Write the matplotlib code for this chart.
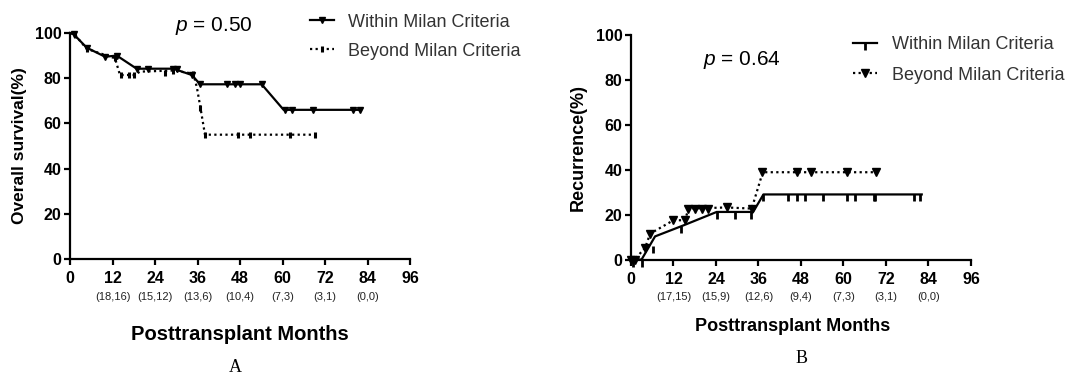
import matplotlib
matplotlib.use("Agg")
import matplotlib.pyplot as plt
from matplotlib.lines import Line2D

plt.rcParams["font.family"] = ["Liberation Sans", "DejaVu Sans"]
plt.rcParams["mathtext.fontset"] = "custom"
plt.rcParams["mathtext.it"] = "Liberation Sans:italic"
plt.rcParams["mathtext.rm"] = "Liberation Sans"

# ---- panel A: overall survival (%) ----
os_within_t = [0, 1, 4.7, 9.9, 13.2, 18.8, 29.2, 34.4, 36.7, 54.1, 60.3, 82]
os_within_y = [100, 99.5, 93.5, 89.5, 90, 84.2, 84.2, 81.4, 77.3, 77.3, 66, 66]
os_within_cens_t = [1, 4.7, 9.9, 13.2, 18.8, 22.1, 29.2, 30.2, 34.4, 36.7,
                    44.3, 46.6, 48, 54.1, 60.6, 62.6, 68.7, 80, 81.9]
os_within_cens_y = [99.5, 93.5, 89.5, 90, 84.2, 84.2, 84.2, 84.2, 81.4, 77.3,
                    77.3, 77.3, 77.3, 77.3, 66, 66, 66, 66, 66]

os_beyond_t = [0, 1.5, 4.7, 12.7, 14.1, 18, 19.8, 29.2, 34.8, 35.8, 36.7, 38.1, 69.2]
os_beyond_y = [100, 99, 93, 88.8, 81.4, 81.4, 82.9, 83.4, 82, 76, 68, 55, 55]
os_beyond_cens_t = [1.5, 4.7, 12.7, 14.3, 16.6, 18, 26.8, 29.2, 34.8, 36.7,
                    38.1, 47.5, 50.8, 62.1, 69.2]
os_beyond_cens_y = [99, 93, 88.8, 81.4, 81.4, 81.4, 82.5, 83.4, 82, 67,
                    55, 55, 55, 55, 55]
os_counts = ["(18,16)", "(15,12)", "(13,6)", "(10,4)", "(7,3)", "(3,1)", "(0,0)"]

# ---- panel B: recurrence (%) ----
rec_within_t = [0, 3, 6.8, 14.8, 24.2, 34.5, 37.4, 82.1]
rec_within_y = [0, 0, 10.3, 15.2, 21.2, 21.2, 29, 29]
rec_within_cens_t = [0.7, 3, 6.2, 14.2, 24.2, 29.4, 34, 37.4, 44.3, 47, 49,
                     54.1, 61.1, 63.3, 68.5, 69, 80, 81.6]
rec_within_cens_y = [0, 0, 6, 15, 21.2, 21.2, 21.2, 29, 29, 29, 29,
                     29, 29, 29, 29, 29, 29, 29]

rec_beyond_t = [0, 1, 4, 5.4, 12, 15.3, 16.2, 27, 34.1, 37.2, 69.1]
rec_beyond_y = [0, 0, 5.2, 11.5, 17.5, 17.5, 22.7, 23.2, 22.7, 38.9, 38.9]
rec_beyond_cens_t = [0, 1, 4, 5.4, 12, 15.3, 16.2, 18.1, 20, 21.8, 27, 34.1,
                     36.9, 47, 50.8, 61.1, 69.1]
rec_beyond_cens_y = [0, 0, 5.2, 11.5, 17.5, 17.5, 22.7, 22.7, 22.7, 22.7,
                     23.2, 22.7, 38.9, 38.9, 38.9, 38.9, 38.9]
rec_counts = ["(17,15)", "(15,9)", "(12,6)", "(9,4)", "(7,3)", "(3,1)", "(0,0)"]

count_months = [12, 24, 36, 48, 60, 72, 84]
x_ticks = list(range(0, 97, 12))
y_ticks = [0, 20, 40, 60, 80, 100]
labels = ["Within Milan Criteria", "Beyond Milan Criteria"]


def style_axes(ax):
    ax.set_xlim(0, 96)
    ax.set_ylim(0, 100)
    for side in ["top", "right"]:
        ax.spines[side].set_visible(False)
    for side in ["left", "bottom"]:
        ax.spines[side].set_linewidth(1.6)
    ax.set_xticks(x_ticks)
    ax.set_yticks(y_ticks)
    ax.tick_params(width=1.6, length=4, labelsize=11.5)
    ax.tick_params(axis="x", pad=5)
    ax.tick_params(axis="y", pad=2)
    for lab in ax.get_xticklabels() + ax.get_yticklabels():
        lab.set_fontweight("bold")


fig = plt.figure(figsize=(10.76, 3.74), dpi=100)
ax_a = fig.add_axes([0.0651, 0.3075, 0.316, 0.6043])
ax_b = fig.add_axes([0.5864, 0.3061, 0.316, 0.600])

# panel A curves
ax_a.plot(os_within_t, os_within_y, color="black", lw=1.6, clip_on=False)
ax_a.plot(os_within_cens_t, os_within_cens_y, ls="none", marker="v",
          ms=5, color="black", clip_on=False)
ax_a.plot(os_beyond_t, os_beyond_y, color="black", lw=1.6, ls=(0, (1, 1.5)),
          clip_on=False)
ax_a.plot(os_beyond_cens_t, os_beyond_cens_y, ls="none", marker="|",
          ms=5, mew=2.2, color="black", clip_on=False)
style_axes(ax_a)

handles_a = [
    Line2D([], [], color="black", lw=1.6, marker="v", ms=5),
    Line2D([], [], color="black", lw=1.6, ls=(0, (1, 1.5)), marker="|",
           ms=5, mew=2.2),
]
leg = ax_a.legend(handles_a, labels, loc="upper left",
                  bbox_to_anchor=(0.706, 1.085), frameon=False, fontsize=13,
                  handlelength=1.3, handletextpad=0.8, labelspacing=0.65,
                  borderpad=0, borderaxespad=0)
for t in leg.get_texts():
    t.set_color("#333333")

ax_a.text(0.424, 1.03, r"$p$ = 0.50", transform=ax_a.transAxes,
          ha="center", va="center", fontsize=15)
ax_a.set_ylabel("Overall survival(%)", fontsize=12.5, fontweight="bold")
ax_a.yaxis.set_label_coords(-0.128, 0.5)
ax_a.text(0.5, -0.335, "Posttransplant Months", transform=ax_a.transAxes,
          ha="center", va="center", fontsize=14.5, fontweight="heavy")
ax_a.text(0.485, -0.48, "A", transform=ax_a.transAxes, ha="center",
          va="center", fontsize=13, family="Liberation Serif")
for m, c in zip(count_months, os_counts):
    ax_a.text(m, -0.167, c, transform=ax_a.get_xaxis_transform(),
              ha="center", va="center", fontsize=8, color="#222222")

# panel B curves
ax_b.plot(rec_within_t, rec_within_y, color="black", lw=1.6, clip_on=False)
ax_b.plot(rec_within_cens_t, rec_within_cens_y, ls="none", marker=3,
          ms=5, mew=2, color="black", clip_on=False)
ax_b.plot(rec_beyond_t, rec_beyond_y, color="black", lw=1.6, ls=(0, (1, 1.5)),
          clip_on=False)
ax_b.plot(rec_beyond_cens_t, rec_beyond_cens_y, ls="none", marker="v",
          ms=6, color="black", clip_on=False)
style_axes(ax_b)

handles_b = [
    Line2D([], [], color="black", lw=1.6, marker=3, ms=5, mew=2),
    Line2D([], [], color="black", lw=1.6, ls=(0, (1, 1.5)), marker="v", ms=6),
]
leg = ax_b.legend(handles_b, labels, loc="upper left",
                  bbox_to_anchor=(0.653, 0.995), frameon=False, fontsize=13,
                  handlelength=1.35, handletextpad=0.8, labelspacing=0.75,
                  borderpad=0, borderaxespad=0)
for t in leg.get_texts():
    t.set_color("#333333")

ax_b.text(0.325, 0.89, r"$p$ = 0.64", transform=ax_b.transAxes,
          ha="center", va="center", fontsize=15)
ax_b.set_ylabel("Recurrence(%)", fontsize=13, fontweight="bold")
ax_b.yaxis.set_label_coords(-0.13, 0.5)
ax_b.text(0.476, -0.3, "Posttransplant Months", transform=ax_b.transAxes,
          ha="center", va="center", fontsize=13, fontweight="bold")
ax_b.text(0.502, -0.44, "B", transform=ax_b.transAxes, ha="center",
          va="center", fontsize=13, family="Liberation Serif")
for m, c in zip(count_months, rec_counts):
    ax_b.text(m, -0.167, c, transform=ax_b.get_xaxis_transform(),
              ha="center", va="center", fontsize=8, color="#222222")

fig.savefig("out.png", dpi=100)
